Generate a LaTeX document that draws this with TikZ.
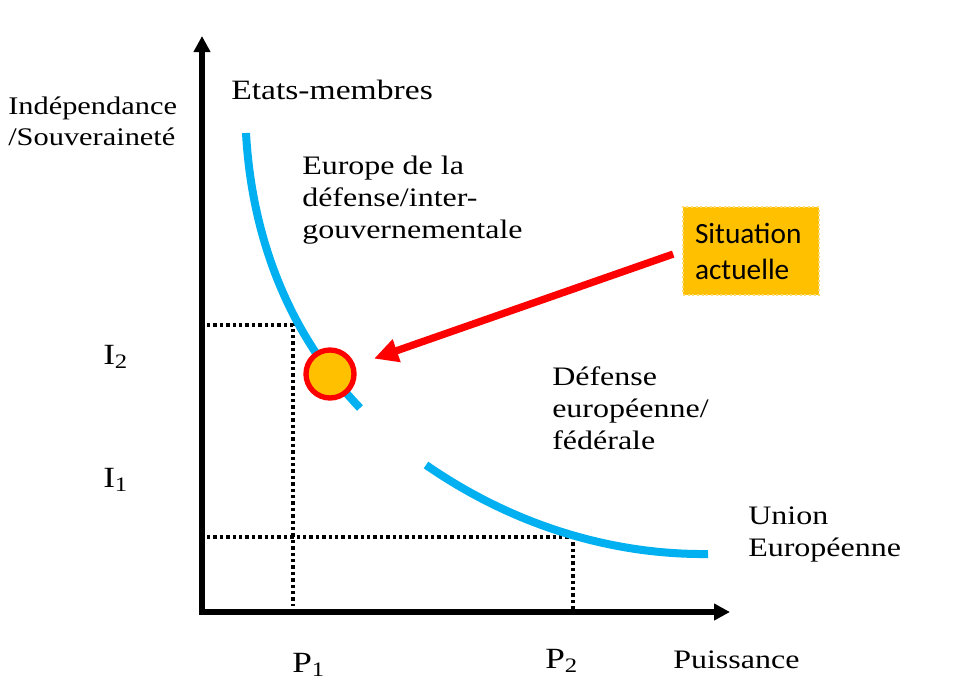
\documentclass[tikz,border=0pt]{standalone}
\usepackage{fontspec}
\setmainfont{Liberation Serif}[FakeStretch=1.2]
\newfontfamily\calibri{Carlito}
\usetikzlibrary{arrows.meta,positioning}
\definecolor{curveblue}{HTML}{00B0F0}
\definecolor{goldfill}{HTML}{FFC000}
\tikzset{
  axis/.style={line width=3.8pt,-{Triangle[length=12pt,width=12pt]}},
  guide/.style={line width=2.4pt,dash pattern=on 2.6pt off 2.2pt},
  curve/.style={curveblue,line width=6pt},
  lbl/.style={anchor=west,align=left,inner sep=0pt,font=\fontsize{20}{24}\selectfont},
  ticklbl/.style={anchor=west,inner sep=0pt,font=\fontsize{22}{26}\selectfont},
}
\begin{document}
\begin{tikzpicture}[x=0.75pt,y=-0.75pt]
  \useasboundingbox (0,0) rectangle (960,696);
  \coordinate (o) at (202,612);
  % dotted guides
  \draw[guide] (207,325) -- (293,325) -- (293,606);
  \draw[guide] (207,537) -- (573,537) -- (573,610);
  % axes
  \draw[axis] (o) -- (202,36);
  \draw[axis] ([xshift=-2pt]o) -- (730,612);
  % curves
  \draw[curve] (246,133) .. controls (252,240) and (290,335) .. (360,408);
  \draw[curve] (426,465) .. controls (520,530) and (620,555) .. (708,554);
  % current position
  \node[circle,draw=red,line width=4pt,fill=goldfill,minimum size=36pt,inner sep=0pt] (now) at (330,374) {};
  \node[fill=goldfill,draw=goldfill!55,dotted,line width=1.5pt,text width=84pt,inner xsep=9pt,
        minimum height=66pt,align=left,font=\calibri\fontsize{22}{27}\selectfont] (situ) at (751,251) {Situation\\actuelle};
  \draw[red,line width=5.5pt,-{Triangle[length=18pt,width=17pt]},shorten <=7pt,shorten >=15pt] (situ.west) -- (now);
  % labels
  \node[lbl,font=\fontsize{19}{23}\selectfont] (yname) at (8,121) {Indépendance\\/Souveraineté};
  \node[lbl,font=\fontsize{21}{25}\selectfont] (etats) at (231,90) {Etats-membres};
  \node[lbl] (interg) at (302,200) {Europe de la\\défense/inter-\\gouvernementale};
  \node[lbl] (feder) at (552,408) {Défense\\européenne/\\fédérale};
  \node[lbl] (ue) at (748,535) {Union\\Européenne};
  \node[ticklbl] (i2) at (103,357) {I\textsubscript{2}};
  \node[ticklbl] (i1) at (103,480) {I\textsubscript{1}};
  \node[ticklbl] (p1) at (292,665) {P\textsubscript{1}};
  \node[ticklbl] (p2) at (545,661) {P\textsubscript{2}};
  \node[lbl] (xname) at (673,660) {Puissance};
\end{tikzpicture}
\end{document}
